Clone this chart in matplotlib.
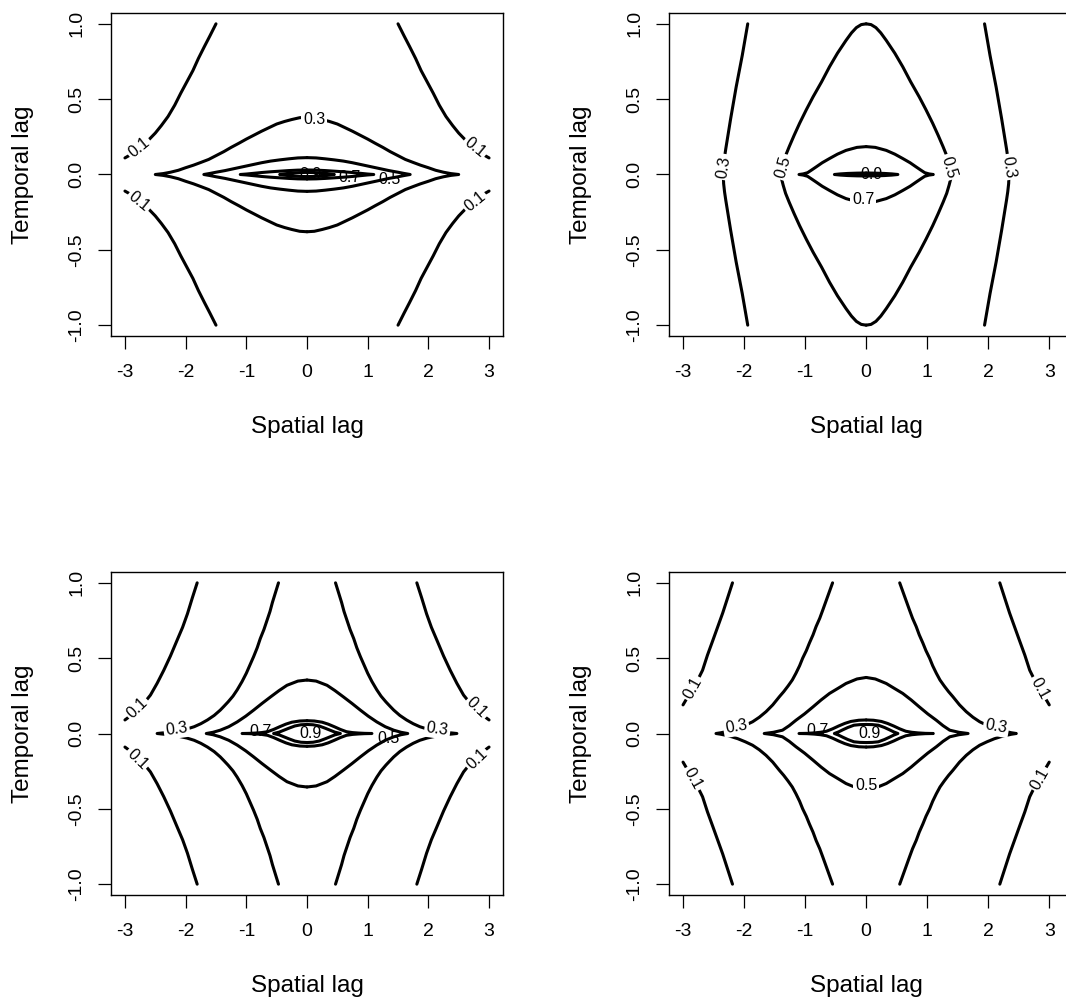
import numpy as np
import matplotlib.pyplot as plt

plt.rcParams['font.family'] = ['Liberation Sans', 'DejaVu Sans']

# contour levels drawn in every panel
levels = ['0.1', '0.3', '0.5', '0.7', '0.9']

# ---- panel 1 (upper-right quadrant of each contour) ----
p1_l01_x = [1.5, 1.6, 1.69, 1.79, 1.88, 1.98, 2.08, 2.18, 2.29, 2.4, 2.5, 2.62, 2.75, 2.87, 3.0]
p1_l01_y = [1.0, 0.92, 0.85, 0.77, 0.69, 0.615, 0.54, 0.46, 0.385, 0.325, 0.275, 0.225, 0.18, 0.14, 0.11]
p1_l03_x = [0, 0.12, 0.25, 0.37, 0.5, 0.62, 0.75, 0.87, 1.0, 1.12, 1.25, 1.37, 1.5, 1.62,
            1.75, 1.87, 2.0, 2.12, 2.25, 2.37, 2.5]
p1_l03_y = [0.38, 0.377, 0.365, 0.352, 0.335, 0.312, 0.287, 0.262, 0.235, 0.208, 0.18, 0.152,
            0.125, 0.1, 0.08, 0.062, 0.045, 0.028, 0.015, 0.006, 0.0]
p1_l05_x = [0, 0.15, 0.3, 0.45, 0.6, 0.75, 0.9, 1.05, 1.2, 1.35, 1.5, 1.6, 1.7]
p1_l05_y = [0.112, 0.11, 0.104, 0.097, 0.089, 0.078, 0.065, 0.052, 0.039, 0.026, 0.015, 0.007, 0.0]
p1_l07_x = [0, 0.15, 0.3, 0.45, 0.6, 0.75, 0.9, 1.0, 1.1]
p1_l07_y = [0.03, 0.029, 0.026, 0.022, 0.018, 0.013, 0.007, 0.003, 0.0]
p1_l09_x = [0, 0.1, 0.2, 0.3, 0.38, 0.45]
p1_l09_y = [0.014, 0.013, 0.011, 0.008, 0.004, 0.0]
p1_lab_text = ['0.1', '0.1', '0.1', '0.1', '0.3', '0.5', '0.7', '0.9']
p1_lab_x = [-2.77, 2.77, -2.77, 2.77, 0.12, 1.36, 0.70, 0.05]
p1_lab_y = [0.18, 0.18, -0.18, -0.18, 0.365, -0.035, -0.02, 0.0]
p1_lab_rot = [39, -39, -39, 39, 0, 0, 0, 0]
p1_lab_box = [True, True, True, True, True, False, False, False]

# ---- panel 2 ----
p2_l03_x = [1.94, 1.985, 2.03, 2.08, 2.13, 2.175, 2.22, 2.26, 2.30, 2.32, 2.335, 2.34]
p2_l03_y = [1.0, 0.895, 0.79, 0.685, 0.58, 0.475, 0.37, 0.27, 0.17, 0.115, 0.06, 0.0]
p2_l05_x = [0, 0.08, 0.16, 0.24, 0.33, 0.47, 0.6, 0.73, 0.87, 0.98, 1.09, 1.18, 1.26,
            1.32, 1.36, 1.385, 1.39]
p2_l05_y = [1.0, 0.995, 0.975, 0.94, 0.89, 0.805, 0.715, 0.615, 0.515, 0.43, 0.34, 0.26,
            0.185, 0.125, 0.07, 0.03, 0.0]
p2_l07_x = [0, 0.15, 0.33, 0.47, 0.6, 0.72, 0.82, 0.9, 0.96, 1.03, 1.1]
p2_l07_y = [0.185, 0.18, 0.16, 0.135, 0.106, 0.078, 0.05, 0.028, 0.012, 0.004, 0.0]
p2_l09_x = [0, 0.15, 0.3, 0.42, 0.52]
p2_l09_y = [0.01, 0.009, 0.007, 0.004, 0.0]
p2_lab_text = ['0.3', '0.3', '0.5', '0.5', '0.7', '0.9']
p2_lab_x = [-2.33, 2.33, -1.36, 1.36, -0.05, 0.08]
p2_lab_y = [0.05, 0.05, 0.05, 0.05, -0.165, 0.0]
p2_lab_rot = [81, -81, 74, -74, 0, 0]
p2_lab_box = [True, True, True, True, True, False]

# ---- panel 3 ----
p3_l01_x = [1.81, 1.89, 1.97, 2.05, 2.14, 2.25, 2.36, 2.47, 2.58, 2.69, 2.8, 2.9, 3.0]
p3_l01_y = [1.0, 0.9, 0.795, 0.705, 0.62, 0.515, 0.42, 0.333, 0.255, 0.2, 0.16, 0.12, 0.09]
p3_l03_x = [0.47, 0.52, 0.57, 0.61, 0.66, 0.71, 0.77, 0.82, 0.88, 0.94, 1.0, 1.07, 1.15,
            1.22, 1.3, 1.37, 1.43, 1.53, 1.64, 1.75, 1.86, 1.98, 2.1, 2.2, 2.3, 2.4, 2.47]
p3_l03_y = [1.0, 0.935, 0.87, 0.81, 0.75, 0.69, 0.63, 0.57, 0.51, 0.455, 0.40, 0.345, 0.29,
            0.248, 0.21, 0.18, 0.155, 0.12, 0.09, 0.065, 0.045, 0.03, 0.02, 0.012, 0.007,
            0.003, 0.0]
p3_l05_x = [0, 0.15, 0.33, 0.46, 0.6, 0.74, 0.88, 1.01, 1.15, 1.29, 1.43, 1.55, 1.66]
p3_l05_y = [0.355, 0.348, 0.32, 0.285, 0.243, 0.2, 0.155, 0.115, 0.077, 0.045, 0.022, 0.008, 0.0]
p3_l07_x = [0, 0.12, 0.25, 0.35, 0.45, 0.55, 0.65, 0.75, 0.85, 0.95, 1.07]
p3_l07_y = [0.085, 0.083, 0.075, 0.062, 0.045, 0.027, 0.012, 0.006, 0.003, 0.001, 0.0]
p3_l09_x = [0, 0.1, 0.2, 0.3, 0.38, 0.46, 0.55]
p3_l09_y = [0.06, 0.058, 0.05, 0.035, 0.022, 0.009, 0.0]
p3_lab_text = ['0.1', '0.1', '0.1', '0.1', '0.3', '0.3', '0.5', '0.7', '0.9']
p3_lab_x = [-2.8, 2.8, -2.8, 2.8, -2.15, 2.15, 1.34, -0.77, 0.05]
p3_lab_y = [0.17, 0.17, -0.17, -0.17, 0.03, 0.03, -0.035, 0.015, 0.0]
p3_lab_rot = [44, -44, -44, 44, 8, -8, 0, 0, 0]
p3_lab_box = [True, True, True, True, True, True, False, False, False]

# ---- panel 4 ----
p4_l01_x = [2.19, 2.27, 2.35, 2.43, 2.51, 2.6, 2.68, 2.76, 2.84, 2.92, 3.0]
p4_l01_y = [1.0, 0.9, 0.8, 0.71, 0.62, 0.52, 0.42, 0.355, 0.30, 0.245, 0.19]
p4_l03_x = [0.55, 0.59, 0.63, 0.67, 0.71, 0.76, 0.82, 0.87, 0.93, 0.98, 1.04, 1.09, 1.15,
            1.21, 1.28, 1.35, 1.42, 1.53, 1.64, 1.75, 1.86, 1.98, 2.1, 2.2, 2.3, 2.38, 2.46]
p4_l03_y = [1.0, 0.955, 0.91, 0.865, 0.82, 0.765, 0.71, 0.655, 0.6, 0.55, 0.5, 0.45, 0.40,
            0.355, 0.315, 0.278, 0.245, 0.19, 0.145, 0.108, 0.078, 0.055, 0.035, 0.022,
            0.012, 0.005, 0.0]
p4_l05_x = [0, 0.15, 0.33, 0.46, 0.6, 0.74, 0.87, 1.01, 1.15, 1.26, 1.37, 1.52, 1.67]
p4_l05_y = [0.372, 0.362, 0.332, 0.3, 0.266, 0.222, 0.177, 0.13, 0.088, 0.052, 0.022, 0.008, 0.0]
p4_l07_x = [0, 0.12, 0.25, 0.35, 0.45, 0.55, 0.65, 0.75, 0.85, 0.97, 1.1]
p4_l07_y = [0.09, 0.088, 0.08, 0.067, 0.05, 0.031, 0.015, 0.008, 0.004, 0.001, 0.0]
p4_l09_x = [0, 0.1, 0.2, 0.3, 0.38, 0.45, 0.52]
p4_l09_y = [0.06, 0.059, 0.055, 0.04, 0.025, 0.011, 0.0]
p4_lab_text = ['0.1', '0.1', '0.1', '0.1', '0.3', '0.3', '0.5', '0.7', '0.9']
p4_lab_x = [-2.84, 2.84, -2.84, 2.84, -2.13, 2.13, 0.0, -0.8, 0.05]
p4_lab_y = [0.30, 0.30, -0.30, -0.30, 0.045, 0.045, -0.345, 0.02, 0.0]
p4_lab_rot = [61, -61, -61, 61, 10, -10, 0, 0, 0]
p4_lab_box = [True, True, True, True, True, True, True, False, False]

x_ticks = [-3, -2, -1, 0, 1, 2, 3]
x_tick_labels = ['-3', '-2', '-1', '0', '1', '2', '3']
y_ticks = [-1.0, -0.5, 0.0, 0.5, 1.0]
y_tick_labels = ['-1.0', '-0.5', '0.0', '0.5', '1.0']


def mirror(qx, qy, joined):
    # contours are symmetric in both lags: build the full curves from one quadrant
    qx = np.array(qx)
    qy = np.array(qy)
    if joined:
        rx = np.concatenate([qx, qx[::-1]])
        ry = np.concatenate([qy, -qy[::-1]])
        return [(rx, ry), (-rx, ry)]
    return [(qx, qy), (qx, -qy), (-qx, qy), (-qx, -qy)]


panels = [
    {'rect': [0.10413, 0.66434, 0.36773, 0.32268], 'xlim': (-3.23, 3.23),
     'curves': [(0, p1_l01_x, p1_l01_y, False), (1, p1_l03_x, p1_l03_y, True),
                (2, p1_l05_x, p1_l05_y, True), (3, p1_l07_x, p1_l07_y, True),
                (4, p1_l09_x, p1_l09_y, True)],
     'labels': (p1_lab_text, p1_lab_x, p1_lab_y, p1_lab_rot, p1_lab_box)},
    {'rect': [0.62758, 0.66434, 0.37617, 0.32268], 'xlim': (-3.23, 3.34),
     'curves': [(1, p2_l03_x, p2_l03_y, True), (2, p2_l05_x, p2_l05_y, True),
                (3, p2_l07_x, p2_l07_y, True), (4, p2_l09_x, p2_l09_y, True)],
     'labels': (p2_lab_text, p2_lab_x, p2_lab_y, p2_lab_rot, p2_lab_box)},
    {'rect': [0.10413, 0.10589, 0.36773, 0.32268], 'xlim': (-3.23, 3.23),
     'curves': [(0, p3_l01_x, p3_l01_y, False), (1, p3_l03_x, p3_l03_y, True),
                (2, p3_l05_x, p3_l05_y, True), (3, p3_l07_x, p3_l07_y, True),
                (4, p3_l09_x, p3_l09_y, True)],
     'labels': (p3_lab_text, p3_lab_x, p3_lab_y, p3_lab_rot, p3_lab_box)},
    {'rect': [0.62758, 0.10589, 0.37617, 0.32268], 'xlim': (-3.23, 3.34),
     'curves': [(0, p4_l01_x, p4_l01_y, False), (1, p4_l03_x, p4_l03_y, True),
                (2, p4_l05_x, p4_l05_y, True), (3, p4_l07_x, p4_l07_y, True),
                (4, p4_l09_x, p4_l09_y, True)],
     'labels': (p4_lab_text, p4_lab_x, p4_lab_y, p4_lab_rot, p4_lab_box)},
]

fig = plt.figure(figsize=(10.66, 10.01), dpi=100)

for p in panels:
    ax = fig.add_axes(p['rect'])
    for k, qx, qy, joined in p['curves']:
        for cx, cy in mirror(qx, qy, joined):
            ax.plot(cx, cy, color='black', lw=2.2, solid_capstyle='round',
                    solid_joinstyle='round', zorder=2 + 2 * k)

    texts, lx, ly, rot, box = p['labels']
    for t, x, y, r, b in zip(texts, lx, ly, rot, box):
        k = levels.index(t)
        kw = {}
        if b:
            kw['bbox'] = dict(boxstyle='square,pad=0.12', fc='white', ec='none')
        ax.text(x, y, t, fontsize=11.5, rotation=r, ha='center', va='center',
                rotation_mode='anchor', zorder=3 + 2 * k, **kw)

    x0, x1 = p['xlim']
    ax.set_xlim(x0, x1)
    ax.set_ylim(-1.072, 1.072)
    ax.set_xticks(x_ticks)
    ax.set_xticklabels(x_tick_labels)
    ax.set_yticks(y_ticks)
    ax.set_yticklabels(y_tick_labels)
    ax.tick_params(axis='both', direction='out', length=9.5, width=0.9, labelsize=14)
    ax.tick_params(axis='x', pad=11)
    ax.tick_params(axis='y', pad=9, labelrotation=90)
    for lab in ax.get_yticklabels():
        lab.set_va('center')
    for s in ax.spines.values():
        s.set_linewidth(1.0)
    if x1 > 3.3:
        ax.spines['right'].set_visible(False)

    width_px = p['rect'][2] * 1066
    ax.set_xlabel('Spatial lag', fontsize=17.5)
    ax.xaxis.set_label_coords((0 - x0) / (x1 - x0), -0.282)
    ax.xaxis.label.set_va('center')
    ax.set_ylabel('Temporal lag', fontsize=17.5)
    ax.yaxis.set_label_coords(-88 / width_px, 0.5)
    ax.yaxis.label.set_va('center')

plt.savefig('out.png', dpi=100, facecolor='white')
